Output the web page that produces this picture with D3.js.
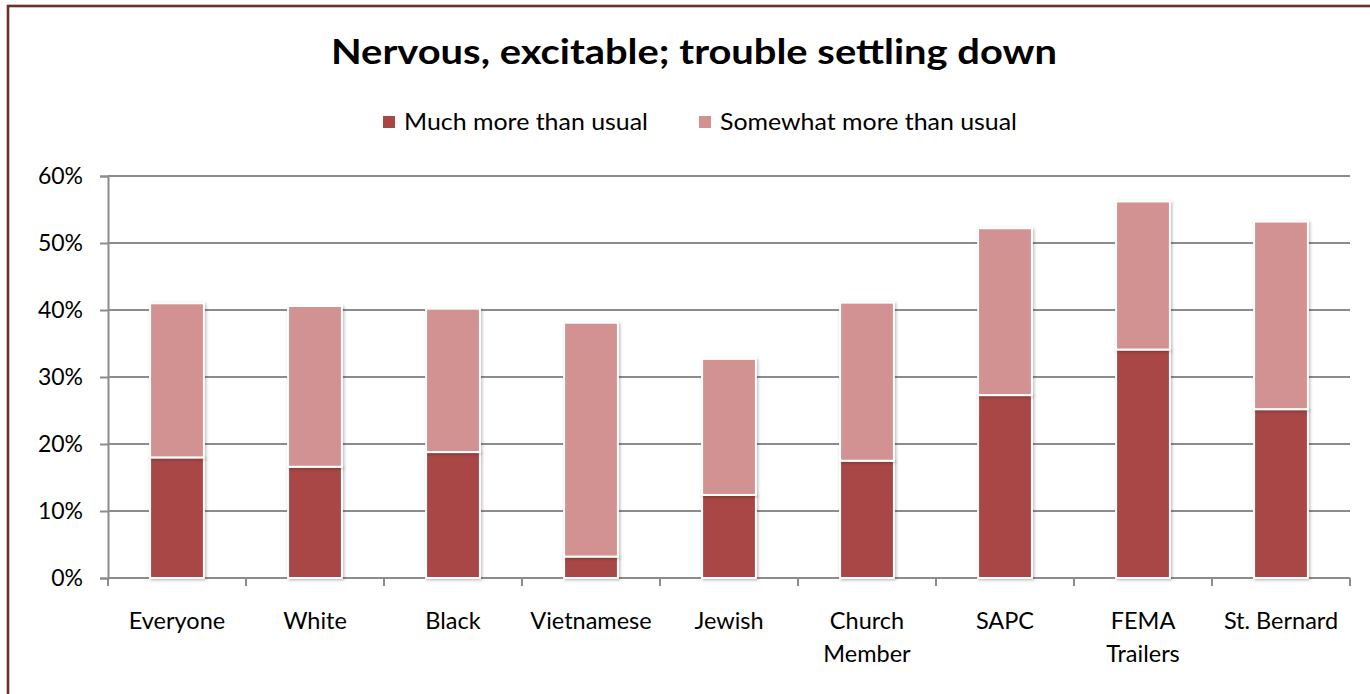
<!DOCTYPE html>
<html>
<head>
<meta charset="utf-8">
<script src="https://cdn.jsdelivr.net/npm/d3@7"></script>
<style>
  html, body { margin: 0; padding: 0; background: #fff; }
  svg { display: block; }
</style>
</head>
<body>
<svg id="chart" width="1370" height="694"></svg>
<script>
const categories = ["Everyone", "White", "Black", "Vietnamese", "Jewish", "Church Member", "SAPC", "FEMA Trailers", "St. Bernard"];
const categoryLabelLines = [["Everyone"], ["White"], ["Black"], ["Vietnamese"], ["Jewish"], ["Church", "Member"], ["SAPC"], ["FEMA", "Trailers"], ["St. Bernard"]];
const seriesNames = ["Much more than usual", "Somewhat more than usual"];
const muchMoreValues = [18.0, 16.6, 18.8, 3.2, 12.4, 17.5, 27.3, 34.1, 25.2];
const somewhatMoreValues = [23.0, 24.0, 21.4, 34.9, 20.3, 23.6, 24.9, 22.1, 28.0];
const yTickValues = [0, 10, 20, 30, 40, 50, 60];
const titleText = "Nervous, excitable; trouble settling down";

(function () {
const colors = ["#A84644", "#D19291"];
const font = "Lato, 'Open Sans', sans-serif";

const svg = d3.select("#chart");

// shadow filter
const defs = svg.append("defs");
const f = defs.append("filter").attr("id", "shadow").attr("x", "-20%").attr("y", "-20%").attr("width", "140%").attr("height", "140%");
f.append("feDropShadow").attr("dx", 1.2).attr("dy", 1.2).attr("stdDeviation", 1.6)
  .attr("flood-color", "#000").attr("flood-opacity", 0.28);

// outer frame
svg.append("rect").attr("x", 8).attr("y", 6).attr("width", 1420).attr("height", 720)
  .attr("fill", "none").attr("stroke", "#722D2D").attr("stroke-width", 2.6);

const pLeft = 108, pRight = 1350, pTop = 176, pBottom = 578;

const x = d3.scaleBand().domain(categories).range([pLeft, pRight]).paddingInner(0.61).paddingOuter(0.305);
const xEdges = d3.scaleLinear().domain([0, categories.length]).range([pLeft, pRight]);
const y = d3.scaleLinear().domain([0, 60]).range([pBottom, pTop]);

// gridlines
svg.append("g").selectAll("line").data(yTickValues.filter(d => d > 0)).join("line")
  .attr("x1", pLeft).attr("x2", pRight)
  .attr("y1", d => y(d)).attr("y2", d => y(d))
  .attr("stroke", "#8C8C8C").attr("stroke-width", 2);

// y axis
const yAxis = svg.append("g").attr("transform", `translate(${pLeft},0)`)
  .call(d3.axisLeft(y).tickValues(yTickValues).tickFormat(d => d + "%").tickSize(8).tickPadding(17));
yAxis.select(".domain").attr("stroke", "#8C8C8C").attr("stroke-width", 2);
yAxis.selectAll(".tick line").attr("stroke", "#8C8C8C").attr("stroke-width", 2);
yAxis.selectAll(".tick text").attr("font-family", font).attr("font-size", 23).attr("fill", "#000");

// x axis line + boundary ticks
svg.append("line").attr("x1", pLeft).attr("x2", pRight).attr("y1", pBottom).attr("y2", pBottom)
  .attr("stroke", "#8C8C8C").attr("stroke-width", 2);
svg.append("g").selectAll("line").data(d3.range(categories.length + 1)).join("line")
  .attr("x1", d => xEdges(d)).attr("x2", d => xEdges(d))
  .attr("y1", pBottom).attr("y2", pBottom + 8)
  .attr("stroke", "#8C8C8C").attr("stroke-width", 2);

// x labels
const xl = svg.append("g").selectAll("text").data(categories).join("text")
  .attr("x", d => x(d) + x.bandwidth() / 2)
  .attr("y", 629)
  .attr("text-anchor", "middle")
  .attr("font-family", font).attr("font-size", 23.5).attr("fill", "#000");
xl.each(function(d, i) {
  const t = d3.select(this);
  categoryLabelLines[i].forEach((line, j) => {
    t.append("tspan").attr("x", x(d) + x.bandwidth() / 2).attr("dy", j === 0 ? 0 : 33).text(line);
  });
});

// stacked bars
const rows = categories.map((c, i) => ({ cat: c, much: muchMoreValues[i], somewhat: somewhatMoreValues[i] }));
const stacked = d3.stack().keys(["much", "somewhat"])(rows);

svg.append("g").selectAll("g").data(stacked).join("g")
  .attr("fill", (d, i) => colors[i])
  .selectAll("rect").data(d => d).join("rect")
  .attr("x", d => x(d.data.cat))
  .attr("width", x.bandwidth())
  .attr("y", d => y(d[1]))
  .attr("height", d => y(d[0]) - y(d[1]))
  .attr("stroke", "#fff").attr("stroke-width", 2)
  .attr("filter", "url(#shadow)");

// title
svg.append("text").attr("x", 694).attr("y", 64).attr("text-anchor", "middle")
  .attr("font-family", font).attr("font-weight", "bold").attr("font-size", 34)
  .attr("textLength", 726).attr("lengthAdjust", "spacingAndGlyphs")
  .attr("fill", "#000").text(titleText);

// legend
const legendItems = [
  { name: seriesNames[0], color: colors[0], sx: 383, tx: 404, tw: 244 },
  { name: seriesNames[1], color: colors[1], sx: 699, tx: 720, tw: 297 }
];
const lg = svg.append("g");
lg.selectAll("rect").data(legendItems).join("rect")
  .attr("x", d => d.sx).attr("y", 116).attr("width", 12).attr("height", 12)
  .attr("fill", d => d.color);
lg.selectAll("text").data(legendItems).join("text")
  .attr("x", d => d.tx).attr("y", 130)
  .attr("font-family", font).attr("font-size", 23).attr("fill", "#000")
  .attr("textLength", d => d.tw).attr("lengthAdjust", "spacingAndGlyphs")
  .text(d => d.name);
})();
</script>
</body>
</html>
